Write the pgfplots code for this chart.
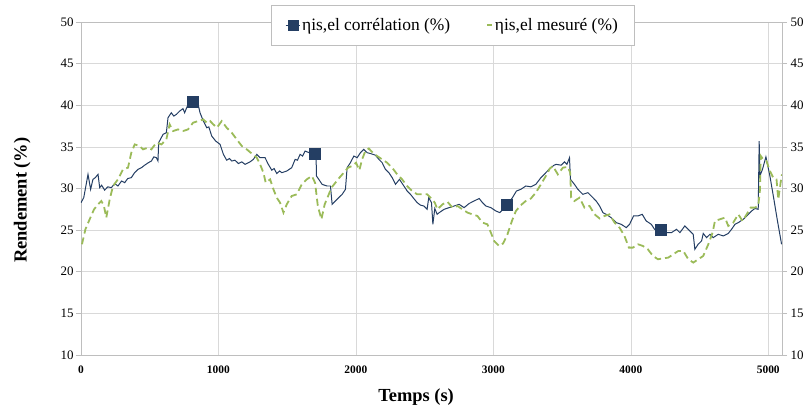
\documentclass[border=0pt]{standalone}
\usepackage{fontspec}
\setmainfont{Liberation Serif}
\usepackage{pgfplots}
\pgfplotsset{compat=1.18}
\definecolor{corrblue}{RGB}{36,62,99}
\definecolor{mesgreen}{RGB}{155,187,89}
\definecolor{gridgray}{RGB}{217,217,217}
\definecolor{axgray}{RGB}{190,190,190}
\begin{document}
\begin{tikzpicture}
\useasboundingbox (-81bp,-56bp) rectangle (731bp,355bp);
\begin{axis}[
  scale only axis, width=701bp, height=333bp,
  xmin=0, xmax=5100, ymin=10, ymax=50,
  xtick={0,1000,2000,3000,4000,5000},
  ytick={10,15,20,25,30,35,40,45,50},
  grid=major, grid style={gridgray, line width=0.6pt},
  axis line style={axgray, line width=0.7pt},
  xtick style={draw=none},
  ytick style={axgray, line width=0.6pt},
  ytick pos=left, tick align=outside, major tick length=5bp,
  /pgf/number format/assume math mode=true,
  /pgf/number format/1000 sep={},
  xticklabel style={font=\bfseries\fontsize{11.5}{12}\selectfont, yshift=-2bp},
  yticklabel style={font=\fontsize{13}{13}\selectfont, xshift=1bp},
  xlabel={Temps (s)}, ylabel={Rendement (\%)},
  xlabel style={font=\bfseries\fontsize{18.5}{19}\selectfont, at={(axis description cs:0.478,-0.126)}, anchor=center},
  ylabel style={font=\bfseries\fontsize{18.5}{19}\selectfont, at={(axis description cs:-0.084,0.465)}, anchor=center},
  legend style={at={(axis description cs:0.53,1.051)}, anchor=north, legend columns=2,
    draw=axgray, fill=white, inner xsep=14bp, inner ysep=11bp,
    font=\fontsize{17.5}{18}\selectfont,
    /tikz/every even column/.append style={column sep=34bp}},
  legend cell align=left,
]
\addplot[corrblue, line width=1pt, no marks,
  legend image code/.code={\draw[corrblue,line width=1pt] (-2bp,0bp) -- (12bp,0bp); \fill[corrblue] (1bp,-5bp) rectangle (11bp,5bp);}]
coordinates {
(0,28.3)(20,28.9)(51,31.7)(70,29.9)(87,31.1)(104,31.3)(124,31.7)(136,30.1)(150,30.4)(172,29.8)(195,30.2)(221,30.1)
(245,30.6)(269,30.3)(295,30.9)(318,30.7)(340,31.2)(366,31.3)(390,31.9)(415,32.3)(440,32.5)(463,32.8)(490,33.1)(512,33.3)(530,33.8)(548,33.7)(560,33.3)(565,35.5)(597,36.5)
(621,36.7)(633,38.5)(645,38.8)(657,39.1)(675,38.7)(694,38.9)(718,39.3)(742,39.6)(754,39.1)(779,40.1)(810,40.4)(852,40.1)
(866,39.1)(890,38.1)(915,37.3)(930,37.4)(951,36.3)(980,35.7)(1012,35.3)(1036,34.1)(1060,33.4)(1080,33.6)(1097,33.3)(1120,33.4)(1145,33.0)(1170,33.2)
(1194,32.9)(1230,33.2)(1254,33.5)(1279,34.1)(1303,33.7)(1339,33.7)(1363,32.9)(1388,32.2)(1405,32.4)(1424,31.8)(1445,32.1)(1461,31.9)
(1497,32.1)(1533,32.5)(1558,33.5)(1575,33.4)(1594,34.1)(1612,33.9)(1630,34.5)(1660,34.3)(1691,34.2)(1710,34.2)(1713,31.5)(1730,31.1)(1754,30.5)
(1790,30.3)(1815,30.3)(1827,28.1)(1851,28.5)(1875,28.9)(1900,29.3)(1924,29.9)(1936,32.5)(1960,33.1)(1985,33.9)
(2009,33.7)(2033,34.3)(2057,34.7)(2082,34.3)(2106,34.2)(2142,34.0)(2167,33.5)(2191,33.1)(2215,32.3)(2240,31.9)
(2264,31.3)(2288,30.5)(2317,31.1)(2349,30.3)(2373,29.7)(2397,29.3)(2421,28.8)(2446,28.3)(2470,28.0)(2494,27.9)
(2518,27.5)(2530,28.9)(2550,28.3)(2560,25.7)(2574,27.6)(2591,26.9)(2606,27.1)(2642,27.5)(2678,27.7)(2715,27.9)
(2751,28.1)(2787,27.7)(2824,28.2)(2860,28.5)(2897,28.8)(2921,28.3)(2945,27.9)(2982,27.7)(3018,27.3)(3047,27.1)
(3098,28.0)(3139,28.9)(3168,29.7)(3200,29.9)(3236,30.3)(3273,30.2)(3309,30.5)(3346,31.3)(3382,31.9)(3411,32.4)
(3442,32.8)(3457,32.9)(3493,32.8)(3518,33.2)(3535,32.9)(3554,33.7)(3561,31.1)(3590,30.5)(3615,29.9)(3651,29.3)
(3688,29.5)(3712,29.1)(3748,28.5)(3773,27.9)(3797,27.1)(3821,26.9)(3857,26.5)(3894,25.9)(3930,25.7)(3967,25.3)
(3991,25.7)(4020,26.7)(4052,26.7)(4083,26.9)(4112,26.1)(4149,25.7)(4173,25.1)(4221,25.0)(4260,24.7)(4296,24.7)
(4333,25.1)(4357,24.7)(4393,25.5)(4430,24.9)(4454,24.5)(4466,22.7)(4490,23.3)(4515,23.7)(4527,24.6)(4551,24.1)
(4576,24.5)(4600,24.1)(4636,24.5)(4673,24.3)(4709,24.6)(4733,25.1)(4758,25.7)(4782,25.9)(4818,26.3)(4855,26.9)
(4879,27.3)(4903,27.6)(4927,27.5)(4934,35.7)(4939,31.5)(4958,32.3)(4983,33.8)(5012,31.5)(5041,28.7)(5065,26.3)
(5097,23.3)
};
\addlegendentry{ηis,el corrélation (\%)}
\addplot[mesgreen, line width=1.8pt, no marks, dash pattern=on 7bp off 4bp,
  legend image code/.code={\draw[mesgreen,line width=1.8pt] (0bp,0bp) -- (5bp,0bp);}]
coordinates {
(7,23.3)(32,25.1)(63,26.3)(95,27.5)(124,28.1)(148,28.5)(167,27.9)(184,26.5)(209,28.7)(233,30.3)
(269,31.1)(306,32.3)(342,32.5)(366,34.3)(391,35.3)(427,35.1)(451,34.7)(488,34.9)(512,34.7)(548,35.5)
(585,35.3)(621,35.9)(645,37.7)(670,36.9)(706,37.1)(742,36.9)(779,37.1)(815,37.9)(852,38.1)(890,38.3)
(915,37.9)(939,38.1)(963,37.7)(988,37.3)(1024,38.1)(1060,37.3)(1097,36.7)(1133,35.9)(1170,35.1)(1206,34.7)
(1242,34.2)(1279,33.7)(1303,32.9)(1327,31.9)(1344,30.7)(1376,31.1)(1400,29.9)(1424,28.9)(1448,28.3)(1473,27.1)
(1497,28.1)(1533,29.1)(1570,29.3)(1606,30.5)(1643,31.1)(1679,31.5)(1703,30.7)(1723,27.9)(1749,26.3)(1773,28.1)
(1798,29.1)(1822,30.1)(1851,30.7)(1880,31.3)(1912,31.9)(1943,32.5)(1972,32.7)(2001,33.1)(2025,32.2)(2045,33.5)
(2069,34.5)(2094,34.8)(2123,34.3)(2154,33.9)(2191,33.5)(2227,33.1)(2264,32.5)(2300,31.7)(2336,31.1)(2373,30.3)
(2409,29.7)(2446,29.3)(2482,29.3)(2518,29.3)(2543,28.9)(2574,28.3)(2593,27.5)(2630,28.1)(2666,28.4)(2703,27.7)
(2739,27.9)(2775,27.5)(2812,27.1)(2848,26.9)(2884,26.7)(2921,25.9)(2957,25.7)(2982,24.7)(3006,23.7)(3042,23.1)
(3071,23.4)(3103,24.5)(3135,26.1)(3164,27.3)(3200,28.0)(3236,28.5)(3273,28.8)(3309,29.5)(3346,30.5)(3382,31.5)
(3411,32.4)(3433,32.7)(3469,31.7)(3506,32.5)(3542,32.6)(3559,31.9)(3566,28.9)(3590,28.5)(3627,28.9)(3663,27.7)
(3700,27.9)(3736,26.9)(3773,26.4)(3809,26.7)(3845,26.9)(3882,25.9)(3918,25.3)(3954,24.3)(3986,22.9)(4015,22.9)
(4052,23.3)(4088,23.1)(4124,22.7)(4161,21.9)(4197,21.5)(4233,21.6)(4273,21.7)(4309,22.1)(4346,22.5)(4382,22.5)
(4418,21.5)(4455,21.1)(4491,21.5)(4527,21.9)(4564,23.3)(4595,24.7)(4612,26.1)(4648,26.3)(4685,26.5)(4709,25.5)
(4745,25.9)(4782,26.9)(4813,26.1)(4843,26.9)(4872,27.7)(4903,27.7)(4927,27.9)(4939,29.7)(4946,33.9)(4963,33.5)
(4987,33.3)(5012,32.1)(5036,31.3)(5060,31.1)(5073,28.7)(5090,30.7)(5100,31.7)
};
\addlegendentry{ηis,el mesuré (\%)}
\addplot[only marks, mark=square*, mark size=5.5bp, color=corrblue, forget plot]
coordinates {(810,40.4)(1700,34.2)(3098,28.0)(4221,25.0)};
\end{axis}
\begin{axis}[
  scale only axis, width=701bp, height=333bp,
  xmin=0, xmax=5100, ymin=10, ymax=50,
  axis x line=none, axis y line*=right,
  ytick={10,15,20,25,30,35,40,45,50},
  axis line style={axgray, line width=0.7pt},
  ytick style={axgray, line width=0.6pt},
  tick align=outside, major tick length=5bp,
  /pgf/number format/assume math mode=true,
  yticklabel style={font=\fontsize{13}{13}\selectfont},
]
\addplot[draw=none] coordinates {(0,10)(5100,50)};
\end{axis}
\end{tikzpicture}
\end{document}
